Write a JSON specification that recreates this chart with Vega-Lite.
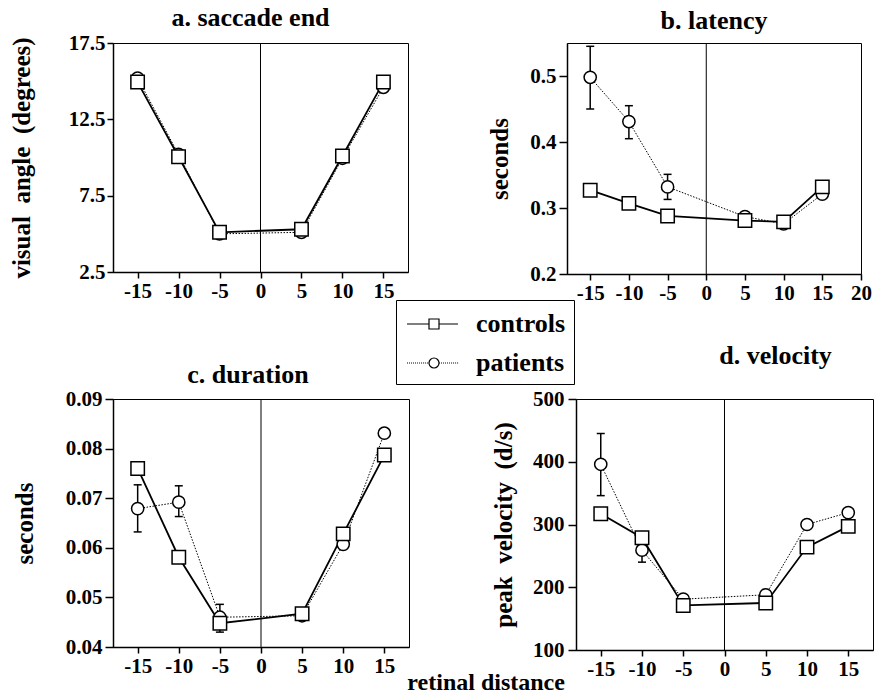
{
  "$schema": "https://vega.github.io/schema/vega-lite/v6.json",
  "background": "white",
  "padding": {"left": 8, "top": 4, "right": 0, "bottom": 0},
  "datasets": {
    "a": [
      {"dist": -15, "group": "controls", "value": 14.94},
      {"dist": -10, "group": "controls", "value": 10.05},
      {"dist": -5, "group": "controls", "value": 5.1},
      {"dist": 5, "group": "controls", "value": 5.3},
      {"dist": 10, "group": "controls", "value": 10.1},
      {"dist": 15, "group": "controls", "value": 14.94},
      {"dist": -15, "group": "patients", "value": 15.2},
      {"dist": -10, "group": "patients", "value": 10.2},
      {"dist": -5, "group": "patients", "value": 5.0},
      {"dist": 5, "group": "patients", "value": 5.1},
      {"dist": 10, "group": "patients", "value": 9.95},
      {"dist": 15, "group": "patients", "value": 14.6}
    ],
    "b": [
      {"dist": -15, "group": "controls", "value": 0.327},
      {"dist": -10, "group": "controls", "value": 0.307},
      {"dist": -5, "group": "controls", "value": 0.288},
      {"dist": 5, "group": "controls", "value": 0.281},
      {"dist": 10, "group": "controls", "value": 0.279},
      {"dist": 15, "group": "controls", "value": 0.332},
      {"dist": -15, "group": "patients", "value": 0.498, "lo": 0.45, "hi": 0.545},
      {"dist": -10, "group": "patients", "value": 0.431, "lo": 0.405, "hi": 0.455},
      {"dist": -5, "group": "patients", "value": 0.332, "lo": 0.313, "hi": 0.351},
      {"dist": 5, "group": "patients", "value": 0.287},
      {"dist": 10, "group": "patients", "value": 0.276},
      {"dist": 15, "group": "patients", "value": 0.321}
    ],
    "c": [
      {"dist": -15, "group": "controls", "value": 0.076},
      {"dist": -10, "group": "controls", "value": 0.0581},
      {"dist": -5, "group": "controls", "value": 0.0448},
      {"dist": 5, "group": "controls", "value": 0.0467},
      {"dist": 10, "group": "controls", "value": 0.0628},
      {"dist": 15, "group": "controls", "value": 0.0787},
      {"dist": -15, "group": "patients", "value": 0.0679, "lo": 0.0632, "hi": 0.0727},
      {"dist": -10, "group": "patients", "value": 0.0692, "lo": 0.0663, "hi": 0.0725},
      {"dist": -5, "group": "patients", "value": 0.046, "lo": 0.043, "hi": 0.0486},
      {"dist": 5, "group": "patients", "value": 0.0463},
      {"dist": 10, "group": "patients", "value": 0.0607},
      {"dist": 15, "group": "patients", "value": 0.0831}
    ],
    "d": [
      {"dist": -15, "group": "controls", "value": 317},
      {"dist": -10, "group": "controls", "value": 279},
      {"dist": -5, "group": "controls", "value": 171},
      {"dist": 5, "group": "controls", "value": 175},
      {"dist": 10, "group": "controls", "value": 264},
      {"dist": 15, "group": "controls", "value": 297},
      {"dist": -15, "group": "patients", "value": 396, "lo": 346, "hi": 445},
      {"dist": -10, "group": "patients", "value": 259, "lo": 240, "hi": 278},
      {"dist": -5, "group": "patients", "value": 181},
      {"dist": 5, "group": "patients", "value": 188},
      {"dist": 10, "group": "patients", "value": 300},
      {"dist": 15, "group": "patients", "value": 319}
    ]
  },
  "title": {"text": "retinal distance", "orient": "bottom", "anchor": "middle", "dx": 45, "offset": -9, "fontSize": 24},
  "vconcat": [
    {
      "hconcat": [
        {
          "width": 295, "height": 229,
          "data": {"name": "a"},
          "title": {"text": "a. saccade end", "dx": -10, "offset": 1},
          "layer": [
            {"data": {"values": [{"zero": 0}]}, "mark": {"type": "rule", "color": "black", "strokeWidth": 1},
             "encoding": {"x": {"field": "zero", "type": "quantitative", "scale": {"domain": [-18, 18], "nice": false, "zero": false}, "axis": {"values": [-15, -10, -5, 0, 5, 10, 15], "title": null, "labelExpr": "'' + datum.value"}}}},
            {"transform": [{"filter": "datum.group === 'patients'"}], "mark": {"type": "line", "color": "black", "strokeWidth": 1, "strokeDash": [1.5, 1.5]},
             "encoding": {"x": {"field": "dist", "type": "quantitative", "scale": {"domain": [-18, 18], "nice": false, "zero": false}, "axis": {"values": [-15, -10, -5, 0, 5, 10, 15], "title": null, "labelExpr": "'' + datum.value"}},
                          "y": {"field": "value", "type": "quantitative", "scale": {"domain": [2.5, 17.5], "nice": false, "zero": false}, "axis": {"values": [2.5, 7.5, 12.5, 17.5], "format": ".1f", "title": "visual\u00a0 angle\u00a0 (degrees)", "titlePadding": 34}}}},
            {"transform": [{"filter": "datum.group === 'controls'"}], "mark": {"type": "line", "color": "black", "strokeWidth": 1.8},
             "encoding": {"x": {"field": "dist", "type": "quantitative"}, "y": {"field": "value", "type": "quantitative"}}},
            {"transform": [{"filter": "datum.group === 'patients'"}], "mark": {"type": "point", "shape": "circle", "size": 150, "filled": true, "fill": "white", "stroke": "black", "strokeWidth": 1.5, "opacity": 1},
             "encoding": {"x": {"field": "dist", "type": "quantitative"}, "y": {"field": "value", "type": "quantitative"}}},
            {"transform": [{"filter": "datum.group === 'controls'"}], "mark": {"type": "point", "shape": "square", "size": 180, "filled": true, "fill": "white", "stroke": "black", "strokeWidth": 1.5, "opacity": 1},
             "encoding": {"x": {"field": "dist", "type": "quantitative"}, "y": {"field": "value", "type": "quantitative"}}},
            {"transform": [{"filter": "datum.dist > 100"}],
             "mark": {"type": "point", "filled": false, "stroke": "black", "strokeWidth": 1.2, "opacity": 1},
             "encoding": {"x": {"field": "dist", "type": "quantitative"}, "y": {"field": "value", "type": "quantitative"},
               "shape": {"field": "group", "type": "nominal",
                 "scale": {"domain": ["controls", "patients"], "range": [
                   "M-0.867,0H0.6M0.6,-0.333H1.267V0.333H0.6ZM1.267,0H2.533",
                   "M-0.867,0h0.067m0.067,0h0.067m0.067,0h0.067m0.067,0h0.067m0.067,0h0.067m0.067,0h0.067m0.067,0h0.067m0.067,0h0.067m0.067,0h0.067m0.067,0h0.067m0.067,0h0.067M0.6,0A0.333,0.333,0,1,1,1.267,0A0.333,0.333,0,1,1,0.6,0ZM1.267,0h0.067m0.067,0h0.067m0.067,0h0.067m0.067,0h0.067m0.067,0h0.067m0.067,0h0.067m0.067,0h0.067m0.067,0h0.067m0.067,0h0.067m0.067,0h0.067"
                 ]},
                 "legend": {"orient": "none", "legendX": 283, "legendY": 257, "title": null, "strokeColor": "black", "padding": 8, "fillColor": "white",
                   "symbolSize": 900, "symbolStrokeColor": "black", "symbolFillColor": "white", "symbolStrokeWidth": 1.2, "symbolOpacity": 1,
                   "labelOffset": 40, "rowPadding": 10, "labelFont": "Liberation Serif", "labelFontWeight": "bold", "labelFontSize": 26, "labelColor": "black", "labelLimit": 0,
                   "encode": {"symbols": {"update": {"fill": {"value": "white"}, "stroke": {"value": "black"}, "strokeWidth": {"value": 1.2}, "opacity": {"value": 1}}}}}}}}
          ]
        },
        {
          "width": 294, "height": 231,
          "data": {"name": "b"},
          "title": {"text": "b. latency", "dx": 0, "offset": 9},
          "layer": [
            {"data": {"values": [{"zero": 0}]}, "mark": {"type": "rule", "color": "black", "strokeWidth": 1},
             "encoding": {"x": {"field": "zero", "type": "quantitative", "scale": {"domain": [-18, 20], "nice": false, "zero": false}, "axis": {"values": [-15, -10, -5, 0, 5, 10, 15, 20], "title": null, "labelExpr": "'' + datum.value"}}}},
            {"transform": [{"filter": "isValid(datum.lo)"}], "mark": {"type": "rule", "color": "black", "strokeWidth": 1.5},
             "encoding": {"x": {"field": "dist", "type": "quantitative", "scale": {"domain": [-18, 20], "nice": false, "zero": false}, "axis": {"values": [-15, -10, -5, 0, 5, 10, 15, 20], "title": null, "labelExpr": "'' + datum.value"}},
                          "y": {"field": "lo", "type": "quantitative", "scale": {"domain": [0.2, 0.55], "nice": false, "zero": false}, "axis": {"values": [0.2, 0.3, 0.4, 0.5], "format": ".1f", "title": "seconds", "titlePadding": 17, "tickSize": 8, "labelPadding": 3}},
                          "y2": {"field": "hi"}}},
            {"transform": [{"filter": "isValid(datum.lo)"}], "mark": {"type": "point", "shape": "stroke", "size": 64, "stroke": "black", "strokeWidth": 1.5, "opacity": 1},
             "encoding": {"x": {"field": "dist", "type": "quantitative"}, "y": {"field": "lo", "type": "quantitative", "axis": {"title": "seconds"}}}},
            {"transform": [{"filter": "isValid(datum.lo)"}], "mark": {"type": "point", "shape": "stroke", "size": 64, "stroke": "black", "strokeWidth": 1.5, "opacity": 1},
             "encoding": {"x": {"field": "dist", "type": "quantitative"}, "y": {"field": "hi", "type": "quantitative", "axis": {"title": "seconds"}}}},
            {"transform": [{"filter": "datum.group === 'patients'"}], "mark": {"type": "line", "color": "black", "strokeWidth": 1, "strokeDash": [1.5, 1.5]},
             "encoding": {"x": {"field": "dist", "type": "quantitative"}, "y": {"field": "value", "type": "quantitative", "axis": {"title": "seconds"}}}},
            {"transform": [{"filter": "datum.group === 'controls'"}], "mark": {"type": "line", "color": "black", "strokeWidth": 1.8},
             "encoding": {"x": {"field": "dist", "type": "quantitative"}, "y": {"field": "value", "type": "quantitative", "axis": {"title": "seconds"}}}},
            {"transform": [{"filter": "datum.group === 'patients'"}], "mark": {"type": "point", "shape": "circle", "size": 150, "filled": true, "fill": "white", "stroke": "black", "strokeWidth": 1.5, "opacity": 1},
             "encoding": {"x": {"field": "dist", "type": "quantitative"}, "y": {"field": "value", "type": "quantitative", "axis": {"title": "seconds"}}}},
            {"transform": [{"filter": "datum.group === 'controls'"}], "mark": {"type": "point", "shape": "square", "size": 180, "filled": true, "fill": "white", "stroke": "black", "strokeWidth": 1.5, "opacity": 1},
             "encoding": {"x": {"field": "dist", "type": "quantitative"}, "y": {"field": "value", "type": "quantitative", "axis": {"title": "seconds"}}}}
          ]
        }
      ],
      "spacing": 159,
      "bounds": "flush"
    },
    {
      "hconcat": [
        {
          "width": 296, "height": 248,
          "data": {"name": "c"},
          "title": {"text": "c. duration", "dx": -13, "offset": 0},
          "layer": [
            {"data": {"values": [{"zero": 0}]}, "mark": {"type": "rule", "color": "black", "strokeWidth": 1},
             "encoding": {"x": {"field": "zero", "type": "quantitative", "scale": {"domain": [-18, 18], "nice": false, "zero": false}, "axis": {"values": [-15, -10, -5, 0, 5, 10, 15], "title": null, "labelExpr": "'' + datum.value"}}}},
            {"transform": [{"filter": "isValid(datum.lo)"}], "mark": {"type": "rule", "color": "black", "strokeWidth": 1.5},
             "encoding": {"x": {"field": "dist", "type": "quantitative", "scale": {"domain": [-18, 18], "nice": false, "zero": false}, "axis": {"values": [-15, -10, -5, 0, 5, 10, 15], "title": null, "labelExpr": "'' + datum.value"}},
                          "y": {"field": "lo", "type": "quantitative", "scale": {"domain": [0.04, 0.09], "nice": false, "zero": false}, "axis": {"values": [0.04, 0.05, 0.06, 0.07, 0.08, 0.09], "format": ".2f", "title": "seconds", "titlePadding": 28, "tickSize": 8, "labelPadding": 3}},
                          "y2": {"field": "hi"}}},
            {"transform": [{"filter": "isValid(datum.lo)"}], "mark": {"type": "point", "shape": "stroke", "size": 64, "stroke": "black", "strokeWidth": 1.5, "opacity": 1},
             "encoding": {"x": {"field": "dist", "type": "quantitative"}, "y": {"field": "lo", "type": "quantitative", "axis": {"title": "seconds"}}}},
            {"transform": [{"filter": "isValid(datum.lo)"}], "mark": {"type": "point", "shape": "stroke", "size": 64, "stroke": "black", "strokeWidth": 1.5, "opacity": 1},
             "encoding": {"x": {"field": "dist", "type": "quantitative"}, "y": {"field": "hi", "type": "quantitative", "axis": {"title": "seconds"}}}},
            {"transform": [{"filter": "datum.group === 'patients'"}], "mark": {"type": "line", "color": "black", "strokeWidth": 1, "strokeDash": [1.5, 1.5]},
             "encoding": {"x": {"field": "dist", "type": "quantitative"}, "y": {"field": "value", "type": "quantitative", "axis": {"title": "seconds"}}}},
            {"transform": [{"filter": "datum.group === 'controls'"}], "mark": {"type": "line", "color": "black", "strokeWidth": 1.8},
             "encoding": {"x": {"field": "dist", "type": "quantitative"}, "y": {"field": "value", "type": "quantitative", "axis": {"title": "seconds"}}}},
            {"transform": [{"filter": "datum.group === 'patients'"}], "mark": {"type": "point", "shape": "circle", "size": 150, "filled": true, "fill": "white", "stroke": "black", "strokeWidth": 1.5, "opacity": 1},
             "encoding": {"x": {"field": "dist", "type": "quantitative"}, "y": {"field": "value", "type": "quantitative", "axis": {"title": "seconds"}}}},
            {"transform": [{"filter": "datum.group === 'controls'"}], "mark": {"type": "point", "shape": "square", "size": 180, "filled": true, "fill": "white", "stroke": "black", "strokeWidth": 1.5, "opacity": 1},
             "encoding": {"x": {"field": "dist", "type": "quantitative"}, "y": {"field": "value", "type": "quantitative", "axis": {"title": "seconds"}}}}
          ]
        },
        {
          "width": 297, "height": 251,
          "data": {"name": "d"},
          "title": {"text": "d. velocity", "dx": 51, "offset": 19},
          "layer": [
            {"data": {"values": [{"zero": 0}]}, "mark": {"type": "rule", "color": "black", "strokeWidth": 1},
             "encoding": {"x": {"field": "zero", "type": "quantitative", "scale": {"domain": [-18, 18], "nice": false, "zero": false}, "axis": {"values": [-15, -10, -5, 0, 5, 10, 15], "title": null, "labelExpr": "'' + datum.value"}}}},
            {"transform": [{"filter": "isValid(datum.lo)"}], "mark": {"type": "rule", "color": "black", "strokeWidth": 1.5},
             "encoding": {"x": {"field": "dist", "type": "quantitative", "scale": {"domain": [-18, 18], "nice": false, "zero": false}, "axis": {"values": [-15, -10, -5, 0, 5, 10, 15], "title": null, "labelExpr": "'' + datum.value"}},
                          "y": {"field": "lo", "type": "quantitative", "scale": {"domain": [100, 500], "nice": false, "zero": false}, "axis": {"values": [100, 200, 300, 400, 500], "title": "peak\u00a0 velocity\u00a0 (d/s)", "titlePadding": 16, "tickSize": 8, "labelPadding": 4}},
                          "y2": {"field": "hi"}}},
            {"transform": [{"filter": "isValid(datum.lo)"}], "mark": {"type": "point", "shape": "stroke", "size": 64, "stroke": "black", "strokeWidth": 1.5, "opacity": 1},
             "encoding": {"x": {"field": "dist", "type": "quantitative"}, "y": {"field": "lo", "type": "quantitative", "axis": {"title": "peak\u00a0 velocity\u00a0 (d/s)"}}}},
            {"transform": [{"filter": "isValid(datum.lo)"}], "mark": {"type": "point", "shape": "stroke", "size": 64, "stroke": "black", "strokeWidth": 1.5, "opacity": 1},
             "encoding": {"x": {"field": "dist", "type": "quantitative"}, "y": {"field": "hi", "type": "quantitative", "axis": {"title": "peak\u00a0 velocity\u00a0 (d/s)"}}}},
            {"transform": [{"filter": "datum.group === 'patients'"}], "mark": {"type": "line", "color": "black", "strokeWidth": 1, "strokeDash": [1.5, 1.5]},
             "encoding": {"x": {"field": "dist", "type": "quantitative"}, "y": {"field": "value", "type": "quantitative", "axis": {"title": "peak\u00a0 velocity\u00a0 (d/s)"}}}},
            {"transform": [{"filter": "datum.group === 'controls'"}], "mark": {"type": "line", "color": "black", "strokeWidth": 1.8},
             "encoding": {"x": {"field": "dist", "type": "quantitative"}, "y": {"field": "value", "type": "quantitative", "axis": {"title": "peak\u00a0 velocity\u00a0 (d/s)"}}}},
            {"transform": [{"filter": "datum.group === 'patients'"}], "mark": {"type": "point", "shape": "circle", "size": 150, "filled": true, "fill": "white", "stroke": "black", "strokeWidth": 1.5, "opacity": 1},
             "encoding": {"x": {"field": "dist", "type": "quantitative"}, "y": {"field": "value", "type": "quantitative", "axis": {"title": "peak\u00a0 velocity\u00a0 (d/s)"}}}},
            {"transform": [{"filter": "datum.group === 'controls'"}], "mark": {"type": "point", "shape": "square", "size": 180, "filled": true, "fill": "white", "stroke": "black", "strokeWidth": 1.5, "opacity": 1},
             "encoding": {"x": {"field": "dist", "type": "quantitative"}, "y": {"field": "value", "type": "quantitative", "axis": {"title": "peak\u00a0 velocity\u00a0 (d/s)"}}}}
          ]
        }
      ],
      "spacing": 167,
      "bounds": "flush"
    }
  ],
  "spacing": 356,
  "bounds": "flush",
  "config": {
    "font": "Liberation Serif",
    "view": {"stroke": "black", "strokeWidth": 1},
    "axis": {"domainColor": "black", "domainWidth": 1.5, "tickColor": "black", "tickWidth": 1.5, "tickSize": 6, "grid": false,
             "labelFont": "Liberation Serif", "labelFontWeight": "bold", "labelFontSize": 21, "labelColor": "black", "labelPadding": 2,
             "labelOverlap": false, "labelFlush": false,
             "titleFont": "Liberation Serif", "titleFontWeight": "bold", "titleFontSize": 25, "titleColor": "black"},
    "title": {"font": "Liberation Serif", "fontWeight": "bold", "fontSize": 26, "color": "black", "anchor": "middle"}
  }
}
